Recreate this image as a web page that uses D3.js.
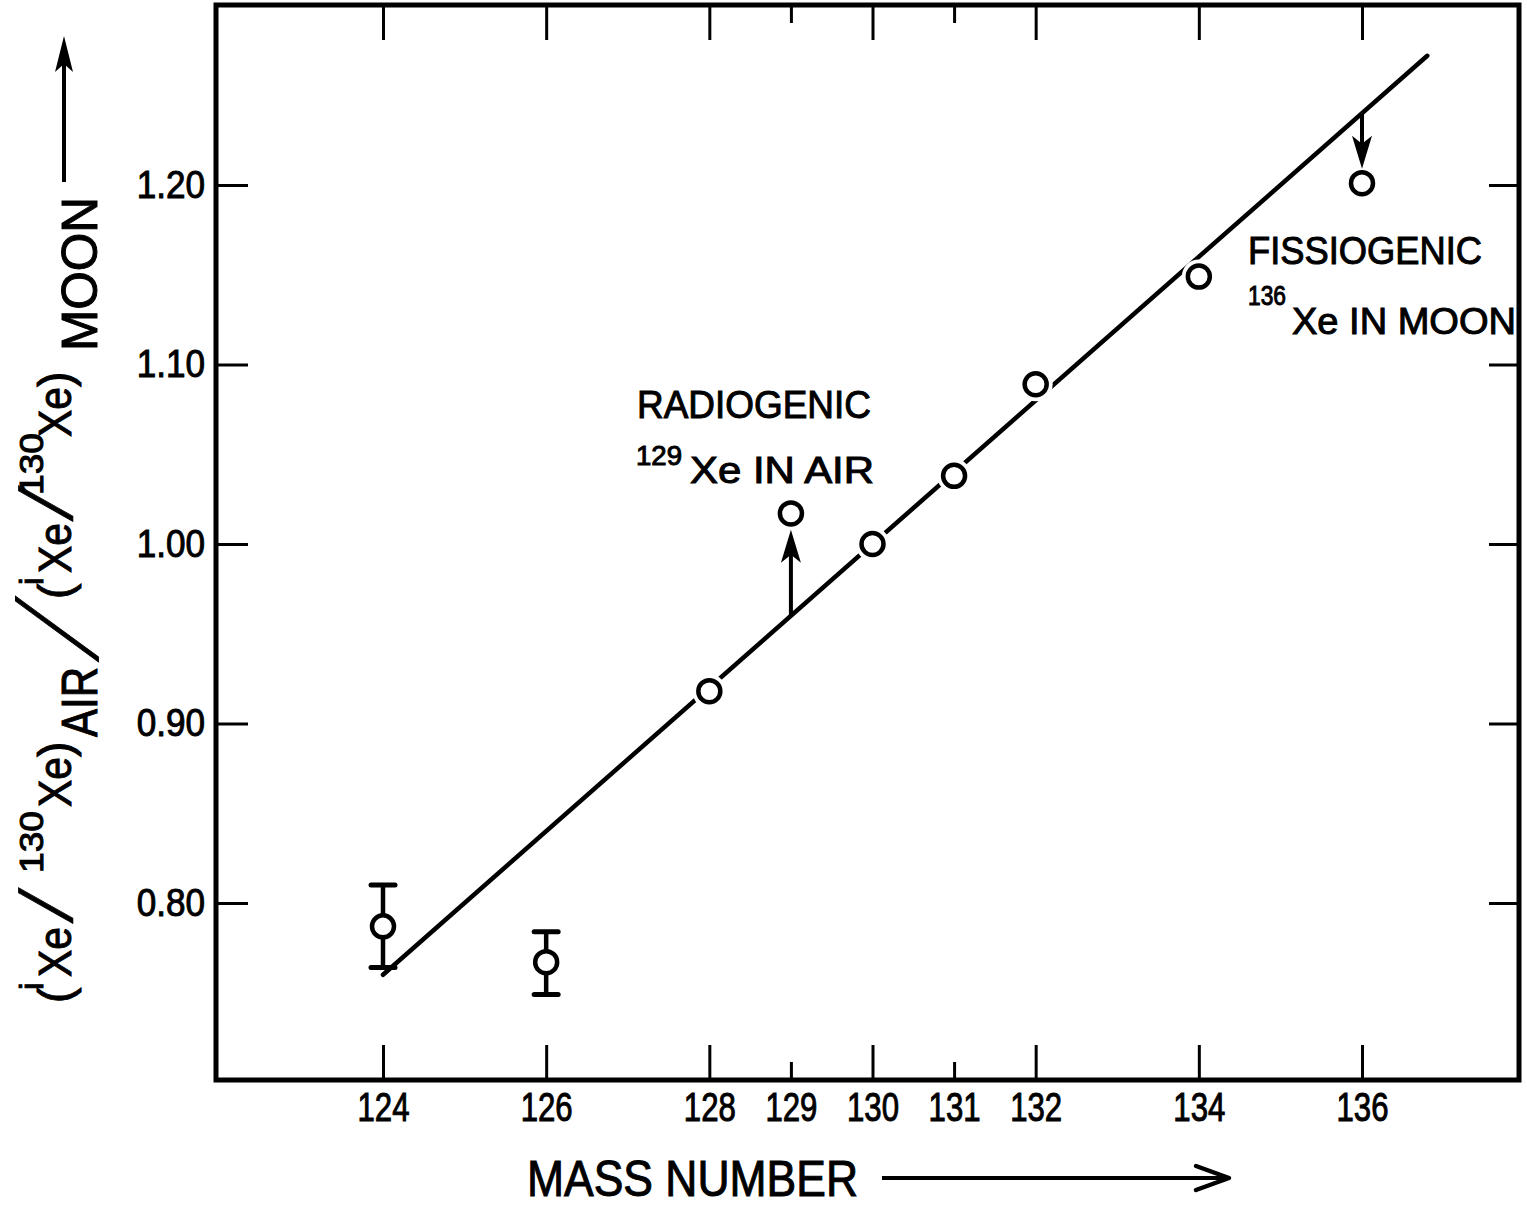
<!DOCTYPE html>
<html>
<head>
<meta charset="utf-8">
<script src="https://cdn.jsdelivr.net/npm/d3@7"></script>
<style>
body { margin: 0; background: #fff; }
svg text { font-family: "Liberation Sans", Arial, sans-serif; fill: #000; stroke: #000; stroke-width: 1; }
</style>
</head>
<body>
<script>
// axis ticks
var massTicks = [124, 126, 128, 129, 130, 131, 132, 134, 136];
var shortTicks = [129, 131];
var ratioTicks = [0.80, 0.90, 1.00, 1.10, 1.20];

// measured points
var massNumbers = [124, 126, 128, 129, 130, 131, 132, 134, 136];
var ratios = [0.787, 0.767, 0.918, 1.017, 1.000, 1.038, 1.089, 1.149, 1.201];

// error bars (124 and 126 only)
var errMass = [124, 126];
var errLow = [0.764, 0.749];
var errHigh = [0.810, 0.784];

// fitted mass fractionation line
var fitMass = [124, 136.8];
var fitRatio = [0.760, 1.272];

// arrows from the line to the displaced points
var arrowMass = [129, 136];
var arrowFrom = [0.960, 1.240];
var arrowTo = [1.008, 1.209];

var margin = {top: 5, right: 8, bottom: 127, left: 216};
var width = 1527 - margin.left - margin.right;
var height = 1207 - margin.top - margin.bottom;

var svg = d3.select("body").append("svg")
	.attr("width", 1527)
	.attr("height", 1207);

var g = svg.append("g")
	.attr("transform", "translate(" + margin.left + "," + margin.top + ")");

var x = d3.scaleLinear().domain([124, 136]).range([167, 1146]);
var y = d3.scaleLinear().domain([0.8, 1.2]).range([898, 180]);

// axes, ticks all pointing inwards
var xAxis = d3.axisBottom(x).tickValues(massTicks).tickSizeInner(-35).tickSizeOuter(0)
	.tickPadding(13).tickFormat(d3.format("d"));
var xAxisTop = d3.axisTop(x).tickValues(massTicks).tickSizeInner(-35).tickSizeOuter(0).tickFormat("");
var yAxis = d3.axisLeft(y).tickValues(ratioTicks).tickSizeInner(-32).tickSizeOuter(0)
	.tickPadding(11).tickFormat(d3.format(".2f"));
var yAxisRight = d3.axisRight(y).tickValues(ratioTicks).tickSizeInner(-30).tickSizeOuter(0).tickFormat("");

var axes = g.append("g");
var gx = axes.append("g").attr("transform", "translate(0," + height + ")").call(xAxis);
axes.append("g").call(xAxisTop);
var gy = axes.append("g").call(yAxis);
axes.append("g").attr("transform", "translate(" + width + ",0)").call(yAxisRight);

axes.selectAll(".domain").remove();
axes.selectAll(".tick line").attr("stroke", "#000").attr("stroke-width", 3);
axes.selectAll(".tick line")
	.filter(function(d) { return shortTicks.indexOf(d) >= 0; })
	.attr("y2", function() { return +d3.select(this).attr("y2") > 0 ? 18 : -18; });
axes.selectAll(".tick text")
	.attr("font-size", 40)
	.attr("font-family", null);
gx.selectAll(".tick text")
	.attr("textLength", 52)
	.attr("lengthAdjust", "spacingAndGlyphs");
gy.selectAll(".tick text")
	.attr("font-size", 39)
	.each(function() {
		var w = this.getComputedTextLength();
		d3.select(this).attr("textLength", w * 0.9).attr("lengthAdjust", "spacingAndGlyphs");
	});

// frame
g.append("rect")
	.attr("x", 0).attr("y", 0)
	.attr("width", width).attr("height", height)
	.attr("fill", "none")
	.attr("stroke", "#000")
	.attr("stroke-width", 5);

// fit line
var fit = fitMass.map(function(m, i) { return [m, fitRatio[i]]; });
g.append("path")
	.datum(fit)
	.attr("d", d3.line().x(function(d) { return x(d[0]); }).y(function(d) { return y(d[1]); }))
	.attr("fill", "none")
	.attr("stroke", "#000")
	.attr("stroke-width", 4.5)
	.attr("stroke-linecap", "round");

var points = massNumbers.map(function(m, i) { return {m: m, r: ratios[i]}; });

// white halo that breaks the line round each point
g.selectAll(".halo")
	.data(points)
	.enter()
	.append("circle")
	.attr("class", "halo")
	.attr("cx", function(d) { return x(d.m); })
	.attr("cy", function(d) { return y(d.r); })
	.attr("r", 17)
	.attr("fill", "#fff");

// arrows
arrowMass.forEach(function(m, i) {
	var x0 = x(m), y0 = y(arrowFrom[i]), y1 = y(arrowTo[i]);
	var dir = y1 < y0 ? 1 : -1;
	var headLen = 33, half = 10;
	g.append("line")
		.attr("x1", x0).attr("y1", y0)
		.attr("x2", x0).attr("y2", y1 + dir * 20)
		.attr("stroke", "#000")
		.attr("stroke-width", 4);
	g.append("path")
		.attr("d", "M" + x0 + "," + y1 +
			"L" + (x0 - half) + "," + (y1 + dir * headLen) +
			"L" + x0 + "," + (y1 + dir * (headLen - 8)) +
			"L" + (x0 + half) + "," + (y1 + dir * headLen) + "Z")
		.attr("fill", "#000");
});

// error bars
var errs = errMass.map(function(m, i) { return {m: m, lo: errLow[i], hi: errHigh[i]}; });
var eb = g.selectAll(".err").data(errs).enter().append("g").attr("class", "err");
eb.append("line")
	.attr("x1", function(d) { return x(d.m); }).attr("x2", function(d) { return x(d.m); })
	.attr("y1", function(d) { return y(d.lo); }).attr("y2", function(d) { return y(d.hi); })
	.attr("stroke", "#000").attr("stroke-width", 4.5);
eb.append("line")
	.attr("x1", function(d) { return x(d.m) - 12; }).attr("x2", function(d) { return x(d.m) + 12; })
	.attr("y1", function(d) { return y(d.hi); }).attr("y2", function(d) { return y(d.hi); })
	.attr("stroke", "#000").attr("stroke-width", 5).attr("stroke-linecap", "round");
eb.append("line")
	.attr("x1", function(d) { return x(d.m) - 12; }).attr("x2", function(d) { return x(d.m) + 12; })
	.attr("y1", function(d) { return y(d.lo); }).attr("y2", function(d) { return y(d.lo); })
	.attr("stroke", "#000").attr("stroke-width", 5).attr("stroke-linecap", "round");

// points
g.selectAll(".pt")
	.data(points)
	.enter()
	.append("circle")
	.attr("class", "pt")
	.attr("cx", function(d) { return x(d.m); })
	.attr("cy", function(d) { return y(d.r); })
	.attr("r", 11)
	.attr("fill", "#fff")
	.attr("stroke", "#000")
	.attr("stroke-width", 4.5);

// annotations
function label(txt, px, py, size, len) {
	return svg.append("text")
		.attr("x", px).attr("y", py)
		.attr("font-size", size)
		.attr("textLength", len)
		.attr("lengthAdjust", "spacingAndGlyphs")
		.text(txt);
}
label("RADIOGENIC", 637, 418, 38, 234);
label("129", 636, 465, 27, 46);
label("Xe IN AIR", 690, 483, 37, 184);
label("FISSIOGENIC", 1248, 264, 38, 234);
label("136", 1248, 305, 27, 38);
label("Xe IN MOON", 1292, 334, 37, 224);
label("MASS NUMBER", 527, 1196, 50, 331);

// x title arrow
svg.append("line").attr("x1", 882).attr("y1", 1178).attr("x2", 1226).attr("y2", 1178)
	.attr("stroke", "#000").attr("stroke-width", 4);
svg.append("path").attr("d", "M1196,1166L1229,1178L1196,1190")
	.attr("fill", "none").attr("stroke", "#000").attr("stroke-width", 4.5)
	.attr("stroke-linejoin", "round").attr("stroke-linecap", "round");

// y title, read bottom to top
var yTitle = svg.append("g").attr("transform", "translate(0,1003) rotate(-90)");
// [text, distance along, baseline, font size, length, slant, vertical stretch]
var yParts = [
	["(", 0, 71, 46, 0, 0, 1], ["i", 13, 43, 34, 0, 0, 1], ["Xe", 26, 71, 46, 50, 0, 1], ["/", 80, 72, 64, 0, -18, 1.15],
	["130", 130, 43, 34, 62, 0, 1], ["Xe", 196, 71, 46, 50, 0, 1], [")", 246, 71, 46, 0, 0, 1], ["AIR", 266, 97, 50, 70, 0, 1],
	["/", 342, 97, 64, -1, -30, 1.75],
	["(", 404, 71, 46, 0, 0, 1], ["i", 418, 43, 34, 0, 0, 1], ["Xe", 430, 71, 46, 50, 0, 1], ["/", 482, 72, 64, 0, -18, 1.15],
	["130", 508, 43, 34, 62, 0, 1], ["Xe", 566, 71, 46, 50, 0, 1], [")", 616, 71, 46, 0, 0, 1], ["MOON", 652, 97, 50, 154, 0, 1]
];
yParts.forEach(function(p) {
	var t = yTitle.append("text")
		.attr("font-size", p[3])
		.text(p[0]);
	if (p[5] != 0 || p[6] != 1) {
		t.attr("transform", "translate(" + p[1] + "," + p[2] + ") skewX(" + p[5] + ") scale(1," + p[6] + ")");
	} else {
		t.attr("x", p[1]).attr("y", p[2]);
	}
	if (p[4] > 0) t.attr("textLength", p[4]).attr("lengthAdjust", "spacingAndGlyphs");
});

// y title arrow
svg.append("line").attr("x1", 64).attr("y1", 182).attr("x2", 64).attr("y2", 50)
	.attr("stroke", "#000").attr("stroke-width", 4);
svg.append("path").attr("d", "M64,36L55,72L64,64L73,72Z").attr("fill", "#000");
</script>
</body>
</html>
